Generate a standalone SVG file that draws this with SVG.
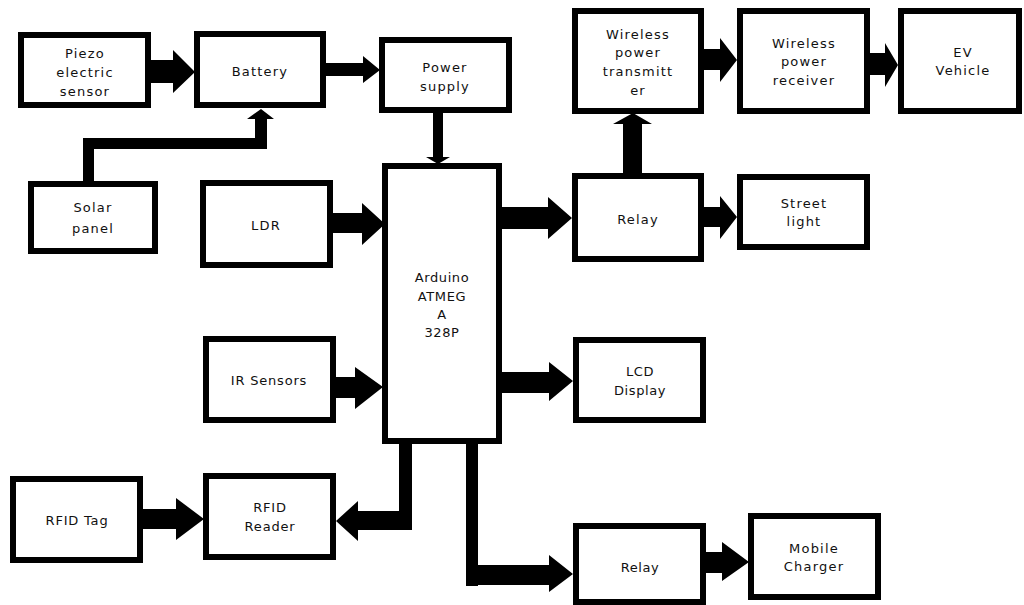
<svg xmlns="http://www.w3.org/2000/svg" width="1024" height="605" viewBox="0 0 1024 605">
<style>
.box{fill:#fff;stroke:#000;stroke-width:6}
.t{font-family:"DejaVu Sans",Verdana,sans-serif;font-size:13px;letter-spacing:1.2px;fill:#111;text-anchor:middle}
.c{fill:#000}
</style>
<rect width="1024" height="605" fill="#fff"/>
<g id="connectors">
<polygon class="c" points="146,60 173,60 173,50 195,72 173,93 173,83 146,83"/>
<polygon class="c" points="324,63 363,63 363,56 380,70 363,83 363,76 324,76"/>
<polygon class="c" points="83,183 83,138 255,138 255,119 247,119 261,109 274,119 267,119 267,149 94,149 94,183"/>
<polygon class="c" points="433,111 443,111 443,157 450,157 438,164 426,157 433,157"/>
<polygon class="c" points="331,213 362,213 362,203 385,224 362,245 362,233 331,233"/>
<polygon class="c" points="500,207 548,207 548,197 572,218 548,239 548,229 500,229"/>
<polygon class="c" points="623,175 623,124 613,124 633,113 652,124 642,124 642,175"/>
<polygon class="c" points="702,49 720,49 720,38 737,60 720,82 720,70 702,70"/>
<polygon class="c" points="868,53 885,53 885,43 898,65 885,87 885,75 868,75"/>
<polygon class="c" points="702,207 720,207 720,196 737,217 720,239 720,227 702,227"/>
<polygon class="c" points="334,377 355,377 355,367 383,387 355,409 355,398 334,398"/>
<polygon class="c" points="500,372 549,372 549,362 573,381 549,401 549,393 500,393"/>
<polygon class="c" points="399,442 412,442 412,530 358,530 358,541 336,521 358,501 358,511 399,511"/>
<polygon class="c" points="141,509 176,509 176,498 204,519 176,540 176,529 141,529"/>
<polygon class="c" points="466,442 478,442 478,565 549,565 549,555 573,574 549,592 549,585 478,585 478,586 466,586"/>
<polygon class="c" points="704,552 722,552 722,542 749,562 722,581 722,573 704,573"/>
</g>
<g id="piezo"><rect class="box" x="21" y="35" width="127" height="70"/>
<text class="t" x="85" y="58">Piezo</text><text class="t" x="85" y="77">electric</text><text class="t" x="85" y="96">sensor</text></g>
<g id="battery"><rect class="box" x="197" y="34" width="126" height="71"/>
<text class="t" x="260" y="76">Battery</text></g>
<g id="power-supply"><rect class="box" x="382" y="40" width="127" height="70"/>
<text class="t" x="445" y="72">Power</text><text class="t" x="445" y="91">supply</text></g>
<g id="solar-panel"><rect class="box" x="31" y="184" width="124" height="67"/>
<text class="t" x="93" y="212">Solar</text><text class="t" x="93" y="233">panel</text></g>
<g id="ldr"><rect class="box" x="203" y="183" width="127" height="82"/>
<text class="t" x="266" y="230">LDR</text></g>
<g id="arduino"><rect class="box" x="385" y="166" width="114" height="275"/>
<text class="t" x="442" y="282" style="letter-spacing:0.6px">Arduino</text><text class="t" x="442" y="301" style="letter-spacing:0.6px">ATMEG</text><text class="t" x="442" y="319" style="letter-spacing:0.6px">A</text><text class="t" x="442" y="337" style="letter-spacing:0.6px">328P</text></g>
<g id="wireless-tx"><rect class="box" x="575" y="11" width="126" height="100"/>
<text class="t" x="638" y="39">Wireless</text><text class="t" x="638" y="57">power</text><text class="t" x="638" y="76">transmitt</text><text class="t" x="638" y="95">er</text></g>
<g id="wireless-rx"><rect class="box" x="740" y="11" width="127" height="100"/>
<text class="t" x="804" y="48">Wireless</text><text class="t" x="804" y="66">power</text><text class="t" x="804" y="85">receiver</text></g>
<g id="ev"><rect class="box" x="901" y="11" width="118" height="100"/>
<text class="t" x="963" y="57">EV</text><text class="t" x="963" y="75">Vehicle</text></g>
<g id="relay1"><rect class="box" x="575" y="176" width="126" height="83"/>
<text class="t" x="638" y="224">Relay</text></g>
<g id="street-light"><rect class="box" x="740" y="177" width="127" height="70"/>
<text class="t" x="804" y="208">Street</text><text class="t" x="804" y="226">light</text></g>
<g id="ir-sensors"><rect class="box" x="206" y="339" width="127" height="81"/>
<text class="t" x="269" y="385" style="letter-spacing:0.8px">IR Sensors</text></g>
<g id="lcd"><rect class="box" x="576" y="340" width="127" height="80"/>
<text class="t" x="640" y="376" style="letter-spacing:0.6px">LCD</text><text class="t" x="640" y="395" style="letter-spacing:0.6px">Display</text></g>
<g id="rfid-tag"><rect class="box" x="13" y="479" width="127" height="81"/>
<text class="t" x="77" y="525" style="letter-spacing:0.8px">RFID Tag</text></g>
<g id="rfid-reader"><rect class="box" x="206" y="476" width="127" height="81"/>
<text class="t" x="270" y="512" style="letter-spacing:0.8px">RFID</text><text class="t" x="270" y="531" style="letter-spacing:0.8px">Reader</text></g>
<g id="relay2"><rect class="box" x="576" y="526" width="127" height="76"/>
<text class="t" x="640" y="572" style="letter-spacing:0.6px">Relay</text></g>
<g id="mobile-charger"><rect class="box" x="751" y="516" width="127" height="81"/>
<text class="t" x="814" y="553">Mobile</text><text class="t" x="814" y="571">Charger</text></g>
</svg>
